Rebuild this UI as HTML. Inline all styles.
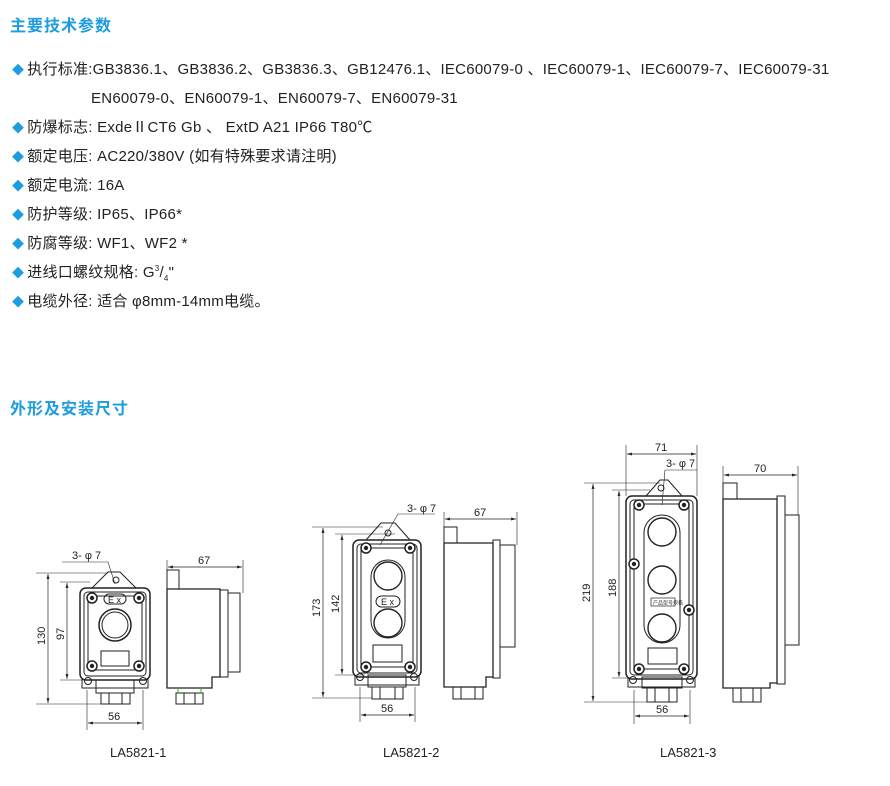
<!DOCTYPE html>
<html><head><meta charset="utf-8"><style>
html,body{margin:0;padding:0;background:#fff;width:890px;height:786px;overflow:hidden}
.h{position:absolute;left:10px;font:bold 16px "Liberation Sans","Noto Sans CJK SC",sans-serif;color:#1e9ce0;letter-spacing:1px}
.l{position:absolute;left:12px;font:15px "Liberation Sans","Noto Sans CJK SC",sans-serif;letter-spacing:0.25px;color:#222;white-space:nowrap}
.l b{color:#1e9ce0;font-weight:normal;font-size:12px;margin-right:3px}
svg{position:absolute;left:0;top:0}
</style></head><body>
<div class="h" style="top:12px">主要技术参数</div>
<div class="l" style="top:58px"><b>◆</b>执行标准:GB3836.1、GB3836.2、GB3836.3、GB12476.1、IEC60079-0 、IEC60079-1、IEC60079-7、IEC60079-31</div>
<div class="l" style="top:87px;left:91px">EN60079-0、EN60079-1、EN60079-7、EN60079-31</div>
<div class="l" style="top:116px"><b>◆</b>防爆标志: ExdeⅡCT6 Gb 、 ExtD A21 IP66 T80℃</div>
<div class="l" style="top:145px"><b>◆</b>额定电压: AC220/380V (如有特殊要求请注明)</div>
<div class="l" style="top:174px"><b>◆</b>额定电流: 16A</div>
<div class="l" style="top:203px"><b>◆</b>防护等级: IP65、IP66*</div>
<div class="l" style="top:232px"><b>◆</b>防腐等级: WF1、WF2 *</div>
<div class="l" style="top:261px"><b>◆</b>进线口螺纹规格: G<sup style="font-size:8px">3</sup>/<sub style="font-size:8px">4</sub>"</div>
<div class="l" style="top:290px"><b>◆</b>电缆外径: 适合 φ8mm-14mm电缆。</div>
<div class="h" style="top:395px">外形及安装尺寸</div>

<svg width="890" height="786" viewBox="0 0 890 786" font-family="Liberation Sans,sans-serif" font-size="11" fill="none" stroke="#222" stroke-width="1">
<defs>
<marker id="a" viewBox="0 0 10 10" refX="10" refY="5" markerWidth="7" markerHeight="7" orient="auto-start-reverse"><path d="M0,2L10,5L0,8z" fill="#222" stroke="none"/></marker>
<g id="sc"><circle r="5" fill="#fff" stroke="#222" stroke-width="1.5"/><circle r="2.2" fill="#222" stroke="none"/></g>
</defs>

<g>
<path d="M92,588 L108,572 L120,572 L136,588" />
<circle cx="116" cy="580" r="3"/>
<rect x="80" y="588" width="70" height="92" rx="6" stroke-width="1.5"/>
<rect x="84" y="592" width="62" height="84" rx="4"/>
<rect x="88" y="596" width="54" height="74" rx="2"/>
<path d="M82,678 L82,688 L148,688 L148,678" />
<circle cx="88" cy="681" r="3.5"/><circle cx="143" cy="681" r="3.5"/>
<rect x="96" y="680" width="38" height="13"/>
<rect x="101" y="693" width="29" height="11"/><line x1="109" y1="693" x2="109" y2="704"/><line x1="122" y1="693" x2="122" y2="704"/>
<use href="#sc" x="92" y="598"/><use href="#sc" x="139" y="598"/><use href="#sc" x="92" y="666"/><use href="#sc" x="139" y="666"/>
<rect x="104" y="594" width="22" height="10" rx="5"/>
<text x="108" y="603" font-size="9" fill="#222" stroke="none">E x</text>
<circle cx="115" cy="625" r="16" stroke-width="1.5"/><circle cx="115" cy="625" r="13"/>
<rect x="101" y="651" width="28" height="15"/>
<line x1="36" y1="573" x2="108" y2="573" stroke-width=".6"/><line x1="36" y1="704" x2="101" y2="704" stroke-width=".6"/>
<line x1="48" y1="574" x2="48" y2="703" marker-start="url(#a)" marker-end="url(#a)" stroke-width=".7"/>
<line x1="60" y1="582" x2="90" y2="582" stroke-width=".6"/><line x1="60" y1="680" x2="90" y2="680" stroke-width=".6"/>
<line x1="67" y1="583" x2="67" y2="679" marker-start="url(#a)" marker-end="url(#a)" stroke-width=".7"/>
<text transform="translate(45,645) rotate(-90)" fill="#222" stroke="none">130</text>
<text transform="translate(64,640) rotate(-90)" fill="#222" stroke="none">97</text>
<line x1="87" y1="690" x2="87" y2="730" stroke-width=".6"/><line x1="143" y1="690" x2="143" y2="730" stroke-width=".6"/>
<line x1="88" y1="723" x2="142" y2="723" marker-start="url(#a)" marker-end="url(#a)" stroke-width=".7"/>
<text x="108" y="720" fill="#222" stroke="none">56</text>
<path d="M62,562 L108,562 L115,584" stroke-width=".6"/>
<text x="72" y="559" fill="#222" stroke="none">3- φ 7</text>
<rect x="167" y="570" width="12" height="19"/>
<path d="M167,589 L220,589 L220,677 L212,677 L212,688 L167,688 Z" stroke-width="1.3"/>
<rect x="220" y="590" width="8" height="87"/>
<rect x="228" y="593" width="12" height="79"/>
<rect x="176" y="693" width="27" height="11"/><line x1="184" y1="693" x2="184" y2="704"/><line x1="195" y1="693" x2="195" y2="704"/>
<line x1="178" y1="688" x2="178" y2="693" stroke="#3a3"/><line x1="201" y1="688" x2="201" y2="693" stroke="#3a3"/>
<line x1="167" y1="560" x2="167" y2="570" stroke-width=".6"/><line x1="243" y1="560" x2="243" y2="593" stroke-width=".6"/>
<line x1="168" y1="567" x2="242" y2="567" marker-start="url(#a)" marker-end="url(#a)" stroke-width=".7"/>
<text x="198" y="564" fill="#222" stroke="none">67</text>
<text x="110" y="757" font-size="13" fill="#222" stroke="none">LA5821-1</text>
</g>

<g>
<path d="M366,540 L381,523 L395,523 L410,540"/>
<circle cx="388" cy="533" r="3"/>
<rect x="353" y="540" width="68" height="137" rx="6" stroke-width="1.5"/>
<rect x="357" y="544" width="60" height="129" rx="4"/>
<rect x="361" y="548" width="52" height="119" rx="2"/>
<path d="M355,675 L355,685 L419,685 L419,675"/>
<circle cx="360" cy="677" r="3.5"/><circle cx="414" cy="677" r="3.5"/>
<rect x="368" y="675" width="38" height="12"/>
<rect x="372" y="687" width="31" height="12"/><line x1="380" y1="687" x2="380" y2="699"/><line x1="395" y1="687" x2="395" y2="699"/>
<use href="#sc" x="366" y="548"/><use href="#sc" x="410" y="548"/><use href="#sc" x="366" y="667"/><use href="#sc" x="410" y="667"/>
<rect x="371" y="560" width="34" height="78" rx="17"/>
<circle cx="388" cy="576" r="14" stroke-width="1.4"/><circle cx="388" cy="623" r="14" stroke-width="1.4"/>
<rect x="376" y="596" width="24" height="11" rx="5.5"/>
<text x="381" y="605" font-size="9" fill="#222" stroke="none">E x</text>
<rect x="373" y="645" width="29" height="17"/>
<line x1="312" y1="527" x2="383" y2="527" stroke-width=".6"/><line x1="312" y1="698" x2="372" y2="698" stroke-width=".6"/>
<line x1="323" y1="528" x2="323" y2="697" marker-start="url(#a)" marker-end="url(#a)" stroke-width=".7"/>
<line x1="335" y1="534" x2="395" y2="534" stroke-width=".6"/><line x1="335" y1="675" x2="365" y2="675" stroke-width=".6"/>
<line x1="342" y1="535" x2="342" y2="674" marker-start="url(#a)" marker-end="url(#a)" stroke-width=".7"/>
<text transform="translate(320,617) rotate(-90)" fill="#222" stroke="none">173</text>
<text transform="translate(339,613) rotate(-90)" fill="#222" stroke="none">142</text>
<line x1="360" y1="687" x2="360" y2="722" stroke-width=".6"/><line x1="415" y1="687" x2="415" y2="722" stroke-width=".6"/>
<line x1="361" y1="715" x2="414" y2="715" marker-start="url(#a)" marker-end="url(#a)" stroke-width=".7"/>
<text x="381" y="712" fill="#222" stroke="none">56</text>
<path d="M435,514 L398,514 L380,545" stroke-width=".6"/>
<text x="407" y="512" fill="#222" stroke="none">3- φ 7</text>
<rect x="444" y="527" width="13" height="16"/>
<path d="M444,543 L493,543 L493,677 L486,677 L486,687 L444,687 Z" stroke-width="1.3"/>
<rect x="493" y="540" width="7" height="138"/>
<rect x="500" y="545" width="15" height="102"/>
<rect x="453" y="687" width="30" height="12"/><line x1="461" y1="687" x2="461" y2="699"/><line x1="475" y1="687" x2="475" y2="699"/>
<line x1="444" y1="512" x2="444" y2="527" stroke-width=".6"/><line x1="517" y1="512" x2="517" y2="545" stroke-width=".6"/>
<line x1="445" y1="519" x2="516" y2="519" marker-start="url(#a)" marker-end="url(#a)" stroke-width=".7"/>
<text x="474" y="516" fill="#222" stroke="none">67</text>
<text x="383" y="757" font-size="13" fill="#222" stroke="none">LA5821-2</text>
</g>

<g>
<path d="M646,496 L660,480 L668,480 L682,496"/>
<circle cx="661" cy="488" r="3"/>
<rect x="626" y="496" width="71" height="183" rx="6" stroke-width="1.5"/>
<rect x="630" y="500" width="63" height="175" rx="4"/>
<rect x="634" y="504" width="55" height="165" rx="2"/>
<path d="M628,677 L628,687 L695,687 L695,677"/>
<circle cx="633" cy="680" r="3.5"/><circle cx="690" cy="680" r="3.5"/>
<rect x="642" y="677" width="40" height="11"/>
<rect x="647" y="688" width="30" height="14"/><line x1="655" y1="688" x2="655" y2="702"/><line x1="669" y1="688" x2="669" y2="702"/>
<use href="#sc" x="639" y="505"/><use href="#sc" x="684" y="505"/><use href="#sc" x="639" y="669"/><use href="#sc" x="684" y="669"/>
<use href="#sc" x="634" y="564"/><use href="#sc" x="689" y="610"/>
<rect x="644" y="515" width="36" height="128" rx="18"/>
<circle cx="662" cy="532" r="14" stroke-width="1.4"/><circle cx="662" cy="580" r="14" stroke-width="1.4"/><circle cx="662" cy="628" r="14" stroke-width="1.4"/>
<rect x="651" y="598" width="24" height="8" stroke-width=".7"/>
<text x="653" y="604.5" font-size="5" fill="#444" stroke="none">产品型号规格</text>
<rect x="648" y="648" width="29" height="16"/>
<line x1="626" y1="445" x2="626" y2="496" stroke-width=".6"/><line x1="697" y1="445" x2="697" y2="496" stroke-width=".6"/>
<line x1="627" y1="454" x2="696" y2="454" marker-start="url(#a)" marker-end="url(#a)" stroke-width=".7"/>
<text x="655" y="451" fill="#222" stroke="none">71</text>
<line x1="584" y1="483" x2="660" y2="483" stroke-width=".6"/><line x1="584" y1="702" x2="647" y2="702" stroke-width=".6"/>
<line x1="593" y1="484" x2="593" y2="701" marker-start="url(#a)" marker-end="url(#a)" stroke-width=".7"/>
<line x1="612" y1="490" x2="650" y2="490" stroke-width=".6"/><line x1="612" y1="678" x2="630" y2="678" stroke-width=".6"/>
<line x1="619" y1="491" x2="619" y2="677" marker-start="url(#a)" marker-end="url(#a)" stroke-width=".7"/>
<text transform="translate(590,602) rotate(-90)" fill="#222" stroke="none">219</text>
<text transform="translate(616,597) rotate(-90)" fill="#222" stroke="none">188</text>
<line x1="634" y1="690" x2="634" y2="724" stroke-width=".6"/><line x1="690" y1="690" x2="690" y2="724" stroke-width=".6"/>
<line x1="635" y1="716" x2="689" y2="716" marker-start="url(#a)" marker-end="url(#a)" stroke-width=".7"/>
<text x="656" y="713" fill="#222" stroke="none">56</text>
<path d="M697,470 L665,470 L662,505" stroke-width=".6"/>
<text x="666" y="467" fill="#222" stroke="none">3- φ 7</text>
<rect x="723" y="483" width="14" height="16"/>
<path d="M723,499 L777,499 L777,683 L770,683 L770,688 L723,688 Z" stroke-width="1.3"/>
<rect x="777" y="496" width="8" height="188"/>
<rect x="785" y="515" width="14" height="130"/>
<rect x="733" y="688" width="28" height="14"/><line x1="741" y1="688" x2="741" y2="702"/><line x1="753" y1="688" x2="753" y2="702"/>
<line x1="723" y1="466" x2="723" y2="483" stroke-width=".6"/><line x1="798" y1="466" x2="798" y2="515" stroke-width=".6"/>
<line x1="724" y1="475" x2="797" y2="475" marker-start="url(#a)" marker-end="url(#a)" stroke-width=".7"/>
<text x="754" y="472" fill="#222" stroke="none">70</text>
<text x="660" y="757" font-size="13" fill="#222" stroke="none">LA5821-3</text>
</g>
</svg>
</body></html>
